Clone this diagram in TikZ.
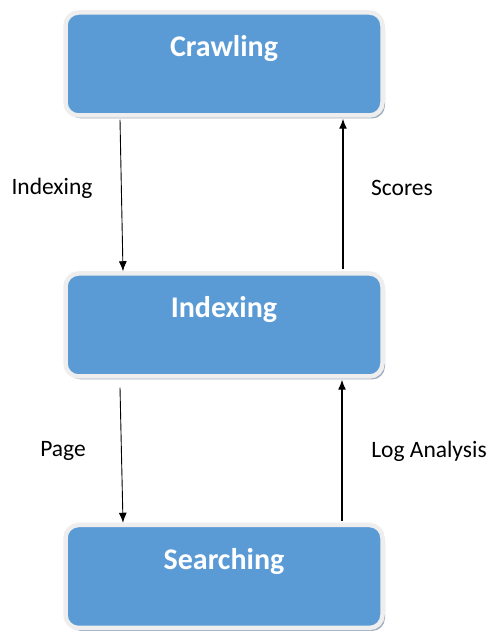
\documentclass[tikz,border=0pt]{standalone}
\usepackage{fontspec}
\setmainfont{Carlito}
\usetikzlibrary{arrows.meta,shadows}
\definecolor{boxblue}{RGB}{91,155,213}
\definecolor{boxrim}{RGB}{238,238,238}
\definecolor{boxshade}{RGB}{120,140,165}

\begin{document}
\begin{tikzpicture}[x=1pt,y=1pt,
  stage/.style={draw=boxrim,line width=4.5pt,fill=boxblue,rounded corners=13pt,
    minimum width=317pt,minimum height=103pt,text=white,
    font=\fontsize{30}{36}\selectfont\bfseries,text height=22pt,text depth=36pt,
    drop shadow={shadow xshift=2.5pt,shadow yshift=-3pt,fill=boxshade,opacity=.7}},
  flow/.style={line width=1.2pt,-{Latex[length=10pt,width=8pt]}},
  thinflow/.style={flow,line width=.9pt},
  lbl/.style={font=\fontsize{23.5}{28}\selectfont}]
\useasboundingbox (0,0) rectangle (492,633);
\path
(224,569) node[stage] (crawl) {Crawling}
(224,308) node[stage] (index) {Indexing}
(224,56.5) node[stage] (search) {Searching}
(52,445) node[lbl] (l1) {Indexing}
(402,445) node[lbl] (l2) {Scores}
(63,182) node[lbl] (l3) {Page}
(429,182) node[lbl] (l4) {Log Analysis};
%\draw[->] (crawl) -- (index);
\draw[thinflow] ([xshift=-104pt,yshift=-2pt]crawl.south) -- ([xshift=-101pt]index.north);
\draw[flow] ([xshift=119pt,yshift=2pt]index.north) -- ([xshift=119pt,yshift=-1pt]crawl.south);
\draw[thinflow] ([xshift=-104pt,yshift=-9pt]index.south) -- ([xshift=-101pt]search.north);
\draw[flow] ([xshift=118pt,yshift=2pt]search.north) -- ([xshift=118pt,yshift=-1pt]index.south);
\end{tikzpicture}
\end{document}
